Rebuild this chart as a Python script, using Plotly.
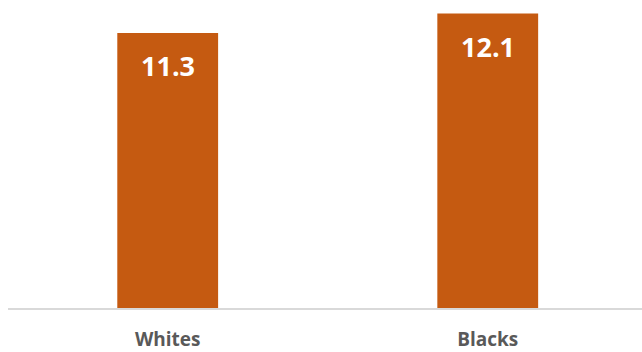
import plotly.graph_objects as go

categories = ["Whites", "Blacks"]
values = [11.3, 12.1]
labels = ["11.3", "12.1"]

bar_color = "#C55A11"

fig = go.Figure()
fig.add_trace(go.Bar(
    x=categories, y=values, width=0.315,
    marker=dict(color=bar_color, line=dict(width=0)),
    hoverinfo="skip",
))

for c, v, t in zip(categories, values, labels):
    fig.add_annotation(x=c, y=v, text="<b>%s</b>" % t, showarrow=False,
                       yanchor="top", yshift=-12,
                       font=dict(family="Open Sans", size=27, color="white"))

fig.update_layout(
    width=642, height=352,
    margin=dict(l=8, r=0, t=0, b=41),
    paper_bgcolor="white", plot_bgcolor="white",
    showlegend=False,
    xaxis=dict(range=[-0.499, 1.482], showline=True, linecolor="#D9D9D9", linewidth=1.5,
               showgrid=False, zeroline=False, ticks="", ticklabelstandoff=13,
               tickfont=dict(family="Open Sans", size=19, color="#595959"),
               tickmode="array", tickvals=categories,
               ticktext=["<b>%s</b>" % c for c in categories]),
    yaxis=dict(range=[0, 12.66], visible=False, showgrid=False, zeroline=False),
)

fig.write_html("out.html")
